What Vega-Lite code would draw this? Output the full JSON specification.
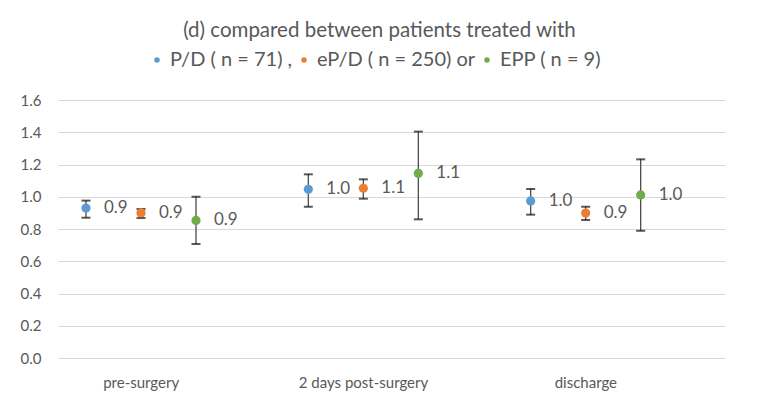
{
  "$schema": "https://vega.github.io/schema/vega-lite/v6.json",
  "width": 667,
  "height": 258,
  "autosize": {"type": "none"},
  "padding": {"left": 58, "top": 100, "right": 34, "bottom": 55},
  "background": "white",
  "config": {
    "view": {"stroke": null},
    "font": "Lato"
  },
  "title": {
    "text": "(d) compared between patients treated with",
    "anchor": "middle",
    "frame": "group",
    "dx": -12,
    "fontSize": 20.5,
    "font": "Lato",
    "fontWeight": "normal",
    "color": "#595959",
    "offset": 9
  },
  "data": {
    "values": [
      {"time": "pre-surgery", "group": "P/D", "mean": 0.93, "low": 0.87, "high": 0.976},
      {"time": "pre-surgery", "group": "eP/D", "mean": 0.9, "low": 0.868, "high": 0.924},
      {"time": "pre-surgery", "group": "EPP", "mean": 0.853, "low": 0.707, "high": 1.0},
      {"time": "2 days post-surgery", "group": "P/D", "mean": 1.046, "low": 0.938, "high": 1.139},
      {"time": "2 days post-surgery", "group": "eP/D", "mean": 1.052, "low": 0.988, "high": 1.108},
      {"time": "2 days post-surgery", "group": "EPP", "mean": 1.145, "low": 0.86, "high": 1.404},
      {"time": "discharge", "group": "P/D", "mean": 0.974, "low": 0.889, "high": 1.048},
      {"time": "discharge", "group": "eP/D", "mean": 0.899, "low": 0.856, "high": 0.938},
      {"time": "discharge", "group": "EPP", "mean": 1.011, "low": 0.789, "high": 1.232}
    ]
  },
  "encoding": {
    "x": {
      "field": "time",
      "type": "nominal",
      "sort": ["pre-surgery", "2 days post-surgery", "discharge"],
      "scale": {"paddingInner": 0, "paddingOuter": 0},
      "axis": {
        "title": null,
        "labelAngle": 0,
        "labelOffset": -28,
        "domain": false,
        "ticks": false,
        "grid": false,
        "labelPadding": 17,
        "labelFontSize": 15,
        "labelFont": "Lato",
        "labelColor": "#595959"
      }
    },
    "xOffset": {
      "field": "group",
      "type": "nominal",
      "sort": ["P/D", "eP/D", "EPP"],
      "scale": {"range": [0.5, 165.5], "paddingInner": 0, "paddingOuter": 0}
    },
    "y": {
      "field": "mean",
      "type": "quantitative",
      "scale": {"domain": [0, 1.6], "nice": false},
      "axis": {
        "title": null,
        "values": [0, 0.2, 0.4, 0.6, 0.8, 1.0, 1.2, 1.4, 1.6],
        "tickCount": 12,
        "format": ".1f",
        "labelOverlap": false,
        "domain": false,
        "ticks": false,
        "gridColor": "#d9d9d9",
        "gridWidth": 1,
        "labelPadding": 17,
        "labelFontSize": 15,
        "labelFont": "Lato",
        "labelColor": "#595959"
      }
    }
  },
  "layer": [
    {
      "mark": {"type": "rule", "color": "#4d4d4d", "strokeWidth": 1.3},
      "encoding": {
        "y": {"field": "low", "type": "quantitative"},
        "y2": {"field": "high"}
      }
    },
    {
      "mark": {"type": "tick", "color": "#111111", "thickness": 2, "size": 9},
      "encoding": {"y": {"field": "low", "type": "quantitative"}}
    },
    {
      "mark": {"type": "tick", "color": "#111111", "thickness": 2, "size": 9},
      "encoding": {"y": {"field": "high", "type": "quantitative"}}
    },
    {
      "mark": {"type": "point", "shape": "circle", "filled": true, "opacity": 1, "size": 85},
      "encoding": {
        "color": {
          "field": "group",
          "type": "nominal",
          "sort": ["P/D", "eP/D", "EPP"],
          "scale": {"domain": ["P/D", "eP/D", "EPP"], "range": ["#5B9BD5", "#ED7D31", "#70AD47"]},
          "legend": {
            "title": null,
            "orient": "none",
            "legendX": 89,
            "legendY": -50,
            "direction": "horizontal",
            "symbolType": "circle",
            "symbolSize": 30,
            "symbolStrokeWidth": 0,
            "labelOffset": 3,
            "columnPadding": 1,
            "labelFontSize": 20,
            "labelFont": "Lato",
            "labelColor": "#595959",
            "labelLimit": 300,
            "labelExpr": "datum.value == 'P/D' ? 'P/D ( n = 71) ,' : datum.value == 'eP/D' ? 'eP/D ( n = 250) or' : 'EPP ( n = 9)'"
          }
        }
      }
    },
    {
      "mark": {"type": "text", "align": "left", "baseline": "middle", "dx": 18, "fontSize": 17, "font": "Lato", "color": "#595959"},
      "encoding": {
        "text": {"field": "mean", "type": "quantitative", "format": ".1f"}
      }
    }
  ]
}
